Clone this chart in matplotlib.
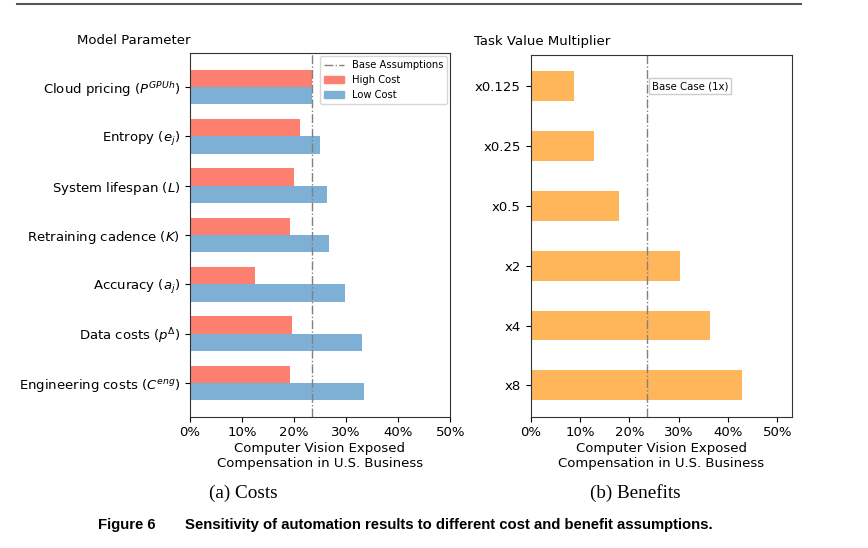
import matplotlib
matplotlib.use("Agg")
import matplotlib.pyplot as plt
from matplotlib.lines import Line2D
from matplotlib.patches import Patch
from matplotlib.ticker import PercentFormatter
import numpy as np

# Costs panel (bottom to top)
cost_params = [r"Engineering costs ($C^{eng}$)", r"Data costs ($p^{\Delta}$)",
               r"Accuracy ($a_j$)", r"Retraining cadence ($K$)",
               r"System lifespan ($L$)", r"Entropy ($e_j$)",
               r"Cloud pricing ($P^{GPUh}$)"]
high_cost = [19.2, 19.6, 12.5, 19.2, 20.0, 21.2, 23.5]
low_cost = [33.4, 33.0, 29.8, 26.7, 26.3, 25.0, 23.5]
base_value = 23.5

# Benefits panel (bottom to top)
multipliers = ["x8", "x4", "x2", "x0.5", "x0.25", "x0.125"]
benefit_values = [42.9, 36.4, 30.3, 17.9, 12.8, 8.8]

xticks = [0, 10, 20, 30, 40, 50]

RED = "#fd7f6f"
BLUE = "#7eb0d5"
ORANGE = "#ffb55a"
FS = 9.5

W, H = 868, 548
fig = plt.figure(figsize=(W / 100, H / 100), dpi=100)

def ax_rect(x0, x1, y0, y1):
    return [x0 / W, 1 - y1 / H, (x1 - x0) / W, (y1 - y0) / H]

ax1 = fig.add_axes(ax_rect(189.7, 450.3, 53.3, 416.7))
ax2 = fig.add_axes(ax_rect(530.7, 791.7, 55.0, 416.7))

# --- Costs ---
y = np.arange(len(cost_params))
bh = 0.35
ax1.barh(y + bh / 2, high_cost, height=bh, color=RED)
ax1.barh(y - bh / 2, low_cost, height=bh, color=BLUE)
ax1.axvline(base_value, color="gray", linestyle="-.", linewidth=1)
ax1.set_yticks(y)
ax1.set_yticklabels(cost_params, fontsize=FS)
ax1.set_xlim(0, 50)
ax1.set_xticks(xticks)
ax1.xaxis.set_major_formatter(PercentFormatter(decimals=0))
ax1.tick_params(labelsize=FS)
ax1.set_xlabel("Computer Vision Exposed\nCompensation in U.S. Business", fontsize=FS,
               labelpad=2)
handles = [Line2D([0], [0], color="gray", linestyle="-.", linewidth=1),
           Patch(color=RED), Patch(color=BLUE)]
ax1.legend(handles, ["Base Assumptions", "High Cost", "Low Cost"], loc="upper right",
           fontsize=7.2, borderaxespad=0.3)

# --- Benefits ---
y2 = np.arange(len(multipliers))
ax2.barh(y2, benefit_values, height=0.5, color=ORANGE)
ax2.axvline(base_value, color="gray", linestyle="-.", linewidth=1)
ax2.set_yticks(y2)
ax2.set_yticklabels(multipliers, fontsize=FS)
ax2.set_xlim(0, 52.9)
ax2.set_xticks(xticks)
ax2.xaxis.set_major_formatter(PercentFormatter(decimals=0))
ax2.tick_params(labelsize=FS)
ax2.set_xlabel("Computer Vision Exposed\nCompensation in U.S. Business", fontsize=FS,
               labelpad=2)
ax2.text(base_value + 1.0, 5, "Base Case (1x)", fontsize=7.3, va="center", ha="left",
         bbox=dict(boxstyle="square,pad=0.3", facecolor="white", edgecolor="#cccccc"))

for ax in (ax1, ax2):
    for s in ax.spines.values():
        s.set_color("#333333")

# Titles
fig.text(134 / W, 1 - 40 / H, "Model Parameter", fontsize=FS, ha="center", va="center")
fig.text(542 / W, 1 - 41 / H, "Task Value Multiplier", fontsize=FS, ha="center", va="center")

# Subcaptions
fig.text(243 / W, 1 - 493 / H, "(a) Costs", fontsize=13.8, ha="center", va="center",
         family="Liberation Serif")
fig.text(635 / W, 1 - 493 / H, "(b) Benefits", fontsize=13.8, ha="center", va="center",
         family="Liberation Serif")

# Figure caption
fig.text(98 / W, 1 - 525 / H, "Figure 6", fontsize=10.7, ha="left", va="center",
         family="Liberation Sans", weight="bold")
fig.text(185 / W, 1 - 525 / H,
         "Sensitivity of automation results to different cost and benefit assumptions.",
         fontsize=10.7, ha="left", va="center", family="Liberation Sans", weight="bold")

# Top rule
fig.add_artist(Line2D([17 / W, 801 / W], [1 - 3.5 / H, 1 - 3.5 / H], color="#555555",
                      linewidth=1.5))

fig.savefig("out.png", dpi=100)
